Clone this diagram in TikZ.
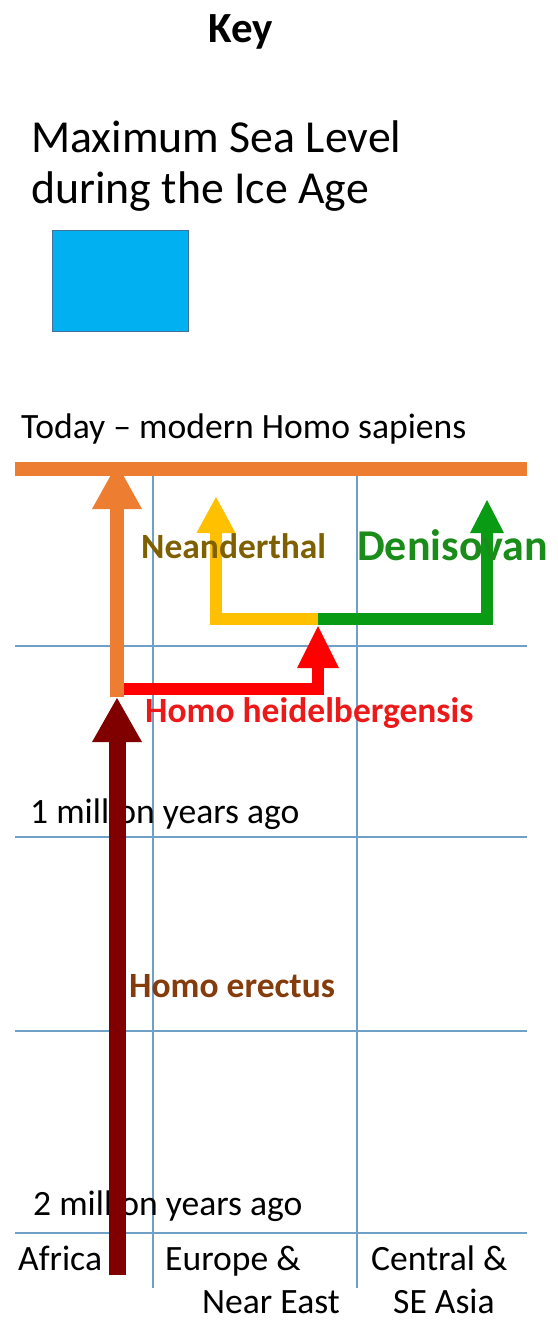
\documentclass[tikz,border=0pt]{standalone}
\usepackage{fontspec}
\setmainfont{Carlito}
\usetikzlibrary{arrows.meta}
\definecolor{gridc}{RGB}{110,160,200}
\definecolor{seablue}{RGB}{0,176,240}
\definecolor{seaedge}{RGB}{65,113,156}
\definecolor{orangec}{RGB}{237,125,49}
\definecolor{redc}{RGB}{255,0,0}
\definecolor{yellowc}{RGB}{255,192,0}
\definecolor{greenc}{RGB}{10,155,20}
\definecolor{darkredc}{RGB}{128,0,0}
\definecolor{neandc}{RGB}{127,96,0}
\definecolor{erectc}{RGB}{132,60,12}
\definecolor{denic}{RGB}{25,140,25}
\definecolor{heidc}{RGB}{235,25,25}
\begin{document}
\begin{tikzpicture}[x=1pt,y=-1pt,
  lbl/.style={anchor=base west, inner sep=0pt, font=\fontsize{35.6}{42}\selectfont},
  blbl/.style={anchor=base west, inner sep=0pt, font=\fontsize{35.5}{42}\selectfont\bfseries},
  gridline/.style={draw=gridc, line width=1.5pt},
  shaft/.style={line cap=butt, line join=miter}]
\useasboundingbox (0,0) rectangle (557,1320);

% key
\node[anchor=base, inner sep=0pt, font=\fontsize{43}{50}\selectfont\bfseries] (key) at (241,42) {Key};
\node[anchor=base west, inner sep=0pt, font=\fontsize{45.8}{51}\selectfont] (sea1) at (31,152) {Maximum Sea Level};
\node[anchor=base west, inner sep=0pt, font=\fontsize{45.8}{51}\selectfont] (sea2) at (31,203) {during the Ice Age};
\node[draw=seaedge, fill=seablue, line width=1pt, minimum width=136.5pt, minimum height=101pt, inner sep=0pt, anchor=north west] (seabox) at (51.5,230) {};

% grid
\coordinate (v1t) at (153,462); \coordinate (v1b) at (153,1288);
\coordinate (v2t) at (357,462); \coordinate (v2b) at (357,1288);
\draw[gridline] (v1t) -- (v1b);
\draw[gridline] (v2t) -- (v2b);
\foreach \yy/\nm in {646/h1,837/h2,1031/h3,1233/h4}{
  \coordinate (\nm L) at (15,\yy); \coordinate (\nm R) at (527,\yy);
  \draw[gridline] (\nm L) -- (\nm R);
}

% labels under arrows
\node[lbl] (today) at (21,438) {Today – modern Homo sapiens};
\node[lbl] (m1) at (30,823) {1 million years ago};
\node[lbl] (m2) at (33,1215) {2 million years ago};
\node[lbl] (africa) at (18,1270) {Africa};
\node[lbl] (europe1) at (165,1270) {Europe \&};
\node[lbl] (europe2) at (202,1313) {Near East};
\node[lbl] (central1) at (371,1270) {Central \&};
\node[lbl] (central2) at (393,1313) {SE Asia};

% coordinates of the lineages
\coordinate (barL) at (15,469); \coordinate (barR) at (527,469);
\coordinate (obot) at (117,697); \coordinate (otip) at (117,464);
\coordinate (rs) at (124,688.5); \coordinate (rc) at (318,688.5); \coordinate (rtip) at (318,626);
\coordinate (fork) at (318,619);
\coordinate (yc) at (216,619); \coordinate (ytip) at (216,497);
\coordinate (gc) at (487,619); \coordinate (gtip) at (487,500);
\coordinate (dbot) at (117,1275); \coordinate (dtip) at (117,698);

% arrows
\draw[shaft, draw=orangec, line width=14pt] (barL) -- (barR);
\draw[shaft, draw=redc, line width=12pt, -{Triangle[width=42pt,length=42pt,line width=0pt]}] (rs) -- (rc) -- (rtip);
\draw[shaft, draw=orangec, line width=14pt, -{Triangle[width=50pt,length=45pt,line width=0pt]}] (obot) -- (otip);
\draw[shaft, draw=yellowc, line width=12pt, -{Triangle[width=39pt,length=36pt,line width=0pt]}] (fork) -- (yc) -- (ytip);
\draw[shaft, draw=greenc, line width=12pt, -{Triangle[width=34pt,length=33pt,line width=0pt]}] (fork) -- (gc) -- (gtip);
\draw[shaft, draw=darkredc, line width=17pt, -{Triangle[width=50pt,length=44pt,line width=0pt]}] (dbot) -- (dtip);

% lineage labels
\node[blbl, text=neandc] (neand) at (141,558) {Neanderthal};
\node[anchor=base west, inner sep=0pt, font=\fontsize{44}{50}\selectfont\bfseries, text=denic] (deni) at (357,560) {Denisovan};
\node[blbl, text=heidc] (heid) at (145,722) {Homo heidelbergensis};
\node[blbl, text=erectc] (erect) at (129,997) {Homo erectus};
\end{tikzpicture}
\end{document}
